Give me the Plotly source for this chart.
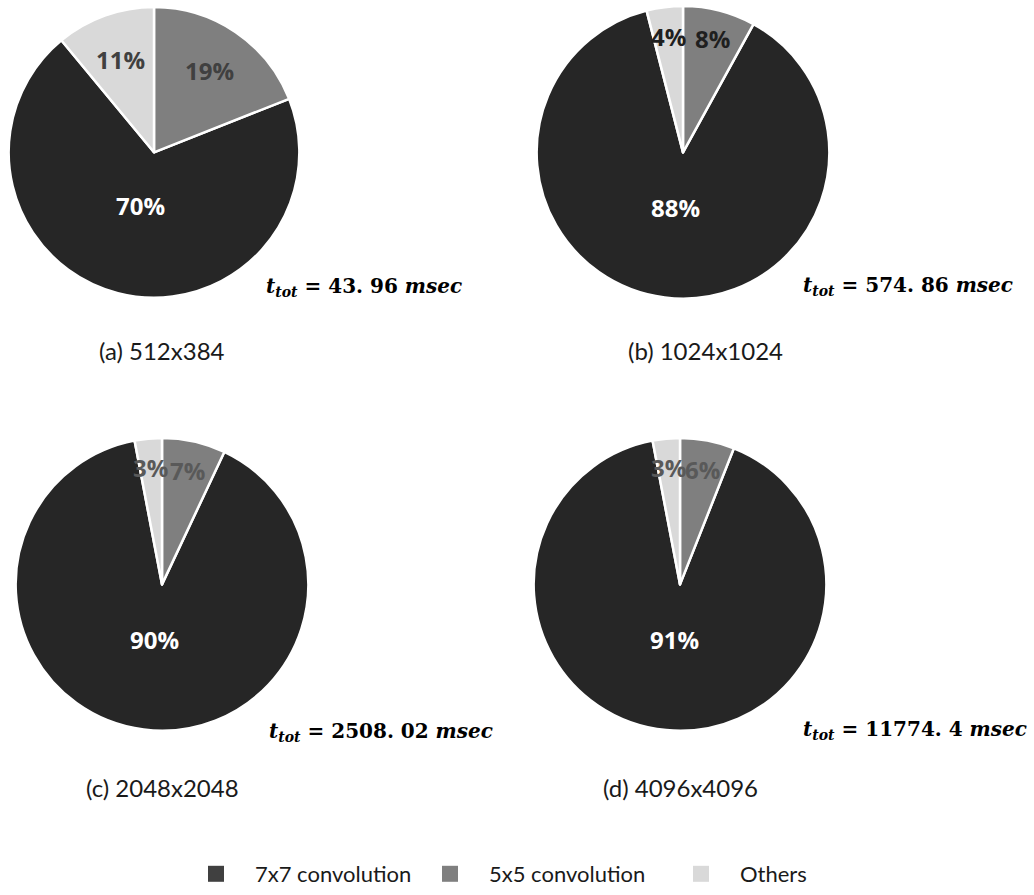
import plotly.graph_objects as go
import math

# ---------------- data ----------------
categories = ["7x7 convolution", "5x5 convolution", "Others"]
share_a = [70, 19, 11]
share_b = [88, 8, 4]
share_c = [90, 7, 3]
share_d = [91, 6, 3]
captions = ["(a) 512x384", "(b) 1024x1024", "(c) 2048x2048", "(d) 4096x4096"]
total_times = ["43. 96", "574. 86", "2508. 02", "11774. 4"]

# ---------------- styles ----------------
W, H = 1034, 895
slice_colors = ["#262626", "#7f7f7f", "#d9d9d9"]
legend_colors = ["#404040", "#7f7f7f", "#d9d9d9"]
legend_widths = [151, 168, 80]
label_colors = ["#404040", "#1f1f1f", "#595959", "#595959"]
# pie geometry in pixels: center x, center y, radius
pie_geom = [(154, 153, 146), (683, 153, 147), (162, 587, 147), (680, 587, 147)]
ttot_pos = [(364, 288), (908, 287), (381, 735), (915, 733)]
caption_pos = [(162, 352), (705, 352), (162, 791), (680, 791)]

shares = [share_a, share_b, share_c, share_d]

fig = go.Figure()
annotations = []

def px2paper(x, y):
    return x / W, 1 - y / H

for k, vals in enumerate(shares):
    cx, cy, r = pie_geom[k]
    x0, y1 = px2paper(cx - r, cy - r)
    x1, y0 = px2paper(cx + r, cy + r)
    total = sum(vals)
    rot = 360.0 * vals[1] / total
    fig.add_trace(go.Pie(
        labels=categories, values=vals, sort=False,
        direction="counterclockwise", rotation=rot,
        marker=dict(colors=slice_colors, line=dict(color="white", width=2.5)),
        textinfo="none", hoverinfo="label+percent",
        domain=dict(x=[x0, x1], y=[y0, y1]),
        showlegend=False,
    ))
    # mid angles (clockwise from 12 o'clock), consistent with counterclockwise layout
    mids = [rot + 360.0 * vals[0] / total / 2,
            360.0 * vals[1] / total / 2,
            -360.0 * vals[2] / total / 2]
    for i, v in enumerate(vals):
        share = v / total * 100
        frac = 0.80 if share < 10 else (0.68 if share < 50 else 0.38)
        a = math.radians(mids[i])
        lx = cx + frac * r * math.sin(a)
        ly = cy - frac * r * math.cos(a)
        px, py = px2paper(lx, ly)
        annotations.append(dict(
            x=px, y=py, xref="paper", yref="paper", showarrow=False,
            text=f"<b>{v}%</b>", xanchor="center", yanchor="middle",
            font=dict(family="Open Sans", size=24,
                      color="white" if i == 0 else label_colors[k]),
        ))
    tx, ty = px2paper(*ttot_pos[k])
    annotations.append(dict(
        x=tx, y=ty, xref="paper", yref="paper", showarrow=False,
        xanchor="center", yanchor="middle",
        text=f"<b><i>t</i></b><sub><b><i>tot</i></b></sub><b> = {total_times[k]} <i>msec</i></b>",
        font=dict(family="DejaVu Serif", size=20, color="black"),
    ))
    qx, qy = px2paper(*caption_pos[k])
    annotations.append(dict(
        x=qx, y=qy, xref="paper", yref="paper", showarrow=False,
        xanchor="center", yanchor="middle", text=captions[k],
        font=dict(family="Lato", size=24, color="#1a1a1a"),
    ))

# legend entries (square swatches)
for i, name in enumerate(categories):
    fig.add_trace(go.Scatter(
        x=[None], y=[None], mode="markers", name=name,
        marker=dict(symbol="square", size=16, color=legend_colors[i], line=dict(width=0)),
        legendwidth=legend_widths[i], hoverinfo="skip",
    ))

fig.update_layout(
    width=W, height=H,
    margin=dict(l=0, r=0, t=0, b=0),
    paper_bgcolor="white", plot_bgcolor="white",
    annotations=annotations,
    xaxis=dict(visible=False), yaxis=dict(visible=False),
    legend=dict(orientation="h", x=177 / W, xanchor="left", y=1 - 878 / H, yanchor="middle",
                font=dict(family="Lato", size=22, color="#1a1a1a"),
                itemwidth=68, traceorder="normal"),
)

fig.write_html("out.html")
